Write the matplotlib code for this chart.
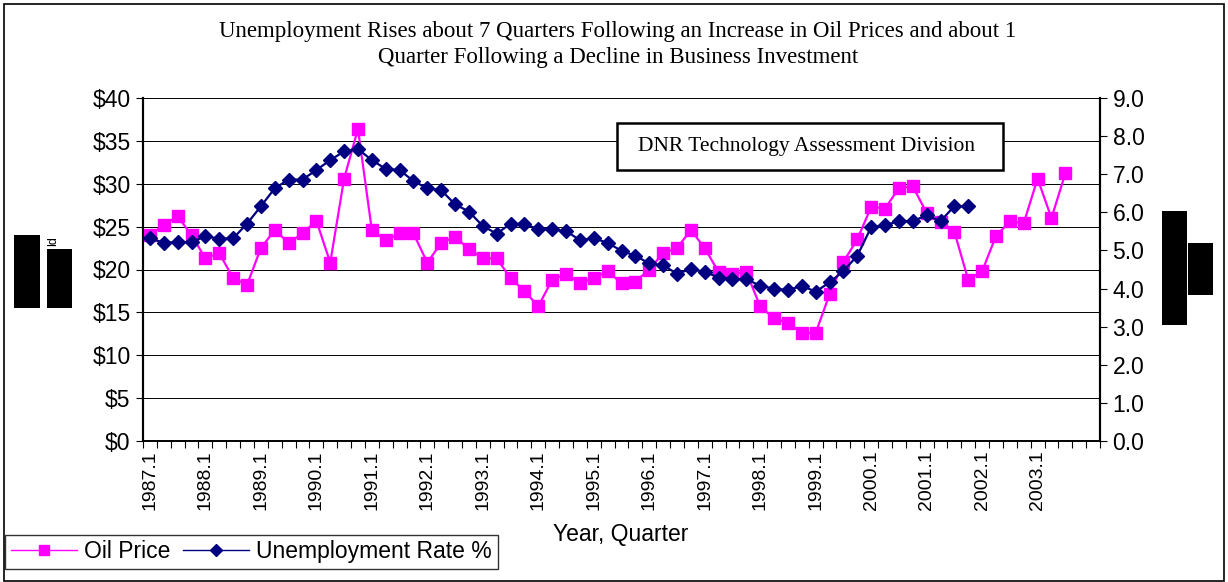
import matplotlib
matplotlib.use("Agg")
import matplotlib.pyplot as plt
from matplotlib.lines import Line2D
from matplotlib.patches import Rectangle

# quarters 1987.1 .. 2004.1 (69 categories)
years = list(range(1987, 2005))
quarters = [f"{y}.{q}" for y in years for q in range(1, 5)][:69]

oil_price = [
    24.0, 25.2, 26.2, 24.0, 21.3, 21.9, 19.0, 18.2, 22.5, 24.6, 23.1, 24.2,
    25.7, 20.8, 30.6, 36.4, 24.6, 23.4, 24.2, 24.2, 20.8, 23.1, 23.8, 22.4,
    21.3, 21.3, 19.0, 17.5, 15.7, 18.8, 19.5, 18.4, 19.0, 19.8, 18.4, 18.6,
    20.0, 21.9, 22.5, 24.6, 22.5, 19.7, 19.5, 19.7, 15.7, 14.3, 13.8, 12.6,
    12.6, 17.1, 20.9, 23.5, 27.3, 27.1, 29.5, 29.7, 26.6, 25.5, 24.4, 18.8,
    19.8, 23.9, 25.6, 25.4, 30.6, 26.0, 31.2,
]

unemployment = [
    5.32, 5.20, 5.22, 5.22, 5.37, 5.31, 5.32, 5.70, 6.16, 6.63, 6.86, 6.86,
    7.11, 7.37, 7.60, 7.66, 7.37, 7.14, 7.11, 6.82, 6.63, 6.58, 6.21, 6.02,
    5.64, 5.44, 5.70, 5.70, 5.55, 5.55, 5.51, 5.27, 5.32, 5.20, 4.99, 4.86,
    4.66, 4.61, 4.39, 4.51, 4.44, 4.29, 4.25, 4.25, 4.07, 4.00, 3.96, 4.07,
    3.92, 4.16, 4.46, 4.86, 5.61, 5.66, 5.77, 5.77, 5.92, 5.77, 6.16, 6.16,
]

oil_ticks = list(range(0, 41, 5))
unemp_ticks = list(range(0, 10))

title_lines = [
    "Unemployment Rises about 7 Quarters Following an Increase in Oil Prices and about 1",
    "Quarter Following a Decline in Business Investment",
]

W, H = 1228, 582
fig = plt.figure(figsize=(W / 100, H / 100), dpi=100)
ax = fig.add_axes([143 / W, 1 - 441 / H, (1100 - 143) / W, (441 - 98) / H])
ax2 = ax.twinx()

sans = "Liberation Sans"
serif = "Liberation Serif"
fs = 16.5

x_oil = list(range(len(oil_price)))
x_un = list(range(len(unemployment)))
ax.plot(x_oil, oil_price, color="#FF00FF", lw=1.6, marker="s", ms=8.5,
        mec="#FF00FF", mfc="#FF00FF", zorder=3)
ax2.plot(x_un, unemployment, color="#000080", lw=1.6, marker="D", ms=7.5,
         mec="#000080", mfc="#000080", zorder=3)

ax.set_xlim(-0.5, 68.5)
ax.set_ylim(0, 40)
ax2.set_ylim(0, 9)

ax.set_yticks(oil_ticks)
ax.set_yticklabels([f"${v}" for v in oil_ticks], fontfamily=sans, fontsize=fs)
ax2.set_yticks(unemp_ticks)
ax2.set_yticklabels([f"{v:.1f}" for v in unemp_ticks], fontfamily=sans, fontsize=fs)

lab_pos = list(range(0, 65, 4))
ax.set_xticks(lab_pos)
ax.set_xticklabels([quarters[i] for i in lab_pos], rotation=90, fontfamily=sans, fontsize=14)
ax.set_xticks([i - 0.5 for i in range(70)], minor=True)
ax.tick_params(axis="x", which="major", length=0, pad=7)
ax.tick_params(axis="x", which="minor", length=5, width=0.8, direction="out")
ax.tick_params(axis="y", length=5, width=0.8, direction="out", pad=4)
ax2.tick_params(axis="y", length=5, width=0.8, direction="out", pad=4)

ax.grid(axis="y", color="black", lw=0.7)
ax.set_axisbelow(True)
for a in (ax, ax2):
    a.spines["top"].set_visible(False)
    a.spines["left"].set_linewidth(1.5)
    a.spines["right"].set_linewidth(1.5)
    a.spines["bottom"].set_linewidth(1.2)

fig.text(621 / W, 1 - 535 / H, "Year, Quarter", ha="center", va="center",
         fontfamily=sans, fontsize=fs)
for yy, line in zip([32, 57], title_lines):
    fig.text(618 / W, 1 - yy / H, line, ha="center", va="center",
             fontfamily=serif, fontsize=16.5)

# annotation box
fig.patches.append(Rectangle((617 / W, 1 - 170 / H), (1003 - 617) / W, (170 - 123) / H,
                             transform=fig.transFigure, fc="white", ec="black",
                             lw=1.8, zorder=5))
fig.text(807 / W, 1 - 146 / H, "DNR Technology Assessment Division", ha="center",
         va="center", fontfamily=serif, fontsize=15.5, zorder=6)

# legend
handles = [
    Line2D([], [], color="#FF00FF", lw=1.0, marker="s", ms=7, mfc="#FF00FF", mec="#FF00FF"),
    Line2D([], [], color="#000080", lw=1.0, marker="D", ms=6.5, mfc="#000080", mec="#000080"),
]
leg = fig.legend(handles, ["Oil Price", "Unemployment Rate %"], loc="lower left",
                 bbox_to_anchor=(5 / W, 1 - 569 / H), ncol=2, frameon=True,
                 fancybox=False, edgecolor="black", prop={"family": sans, "size": fs},
                 handlelength=2.9, columnspacing=0.55, handletextpad=0.3,
                 borderpad=0.25, borderaxespad=0)
leg.get_frame().set_linewidth(1.0)

# redacted axis-title blocks
for (x0, y0, x1, y1) in [(14, 235, 40, 308), (47, 249, 72, 308),
                         (1162, 211, 1187, 325), (1188, 243, 1213, 295)]:
    fig.patches.append(Rectangle((x0 / W, 1 - y1 / H), (x1 - x0) / W, (y1 - y0) / H,
                                 transform=fig.transFigure, fc="black", ec="none"))
fig.text(53 / W, 1 - 241 / H, "ld", rotation=90, ha="center", va="center",
         fontfamily=sans, fontsize=9)

# outer border
fig.patches.append(Rectangle((4 / W, 1.5 / H), (W - 8) / W, (H - 5) / H,
                             transform=fig.transFigure, fill=False, ec="black", lw=1.2))

fig.savefig("out.png", dpi=100)
